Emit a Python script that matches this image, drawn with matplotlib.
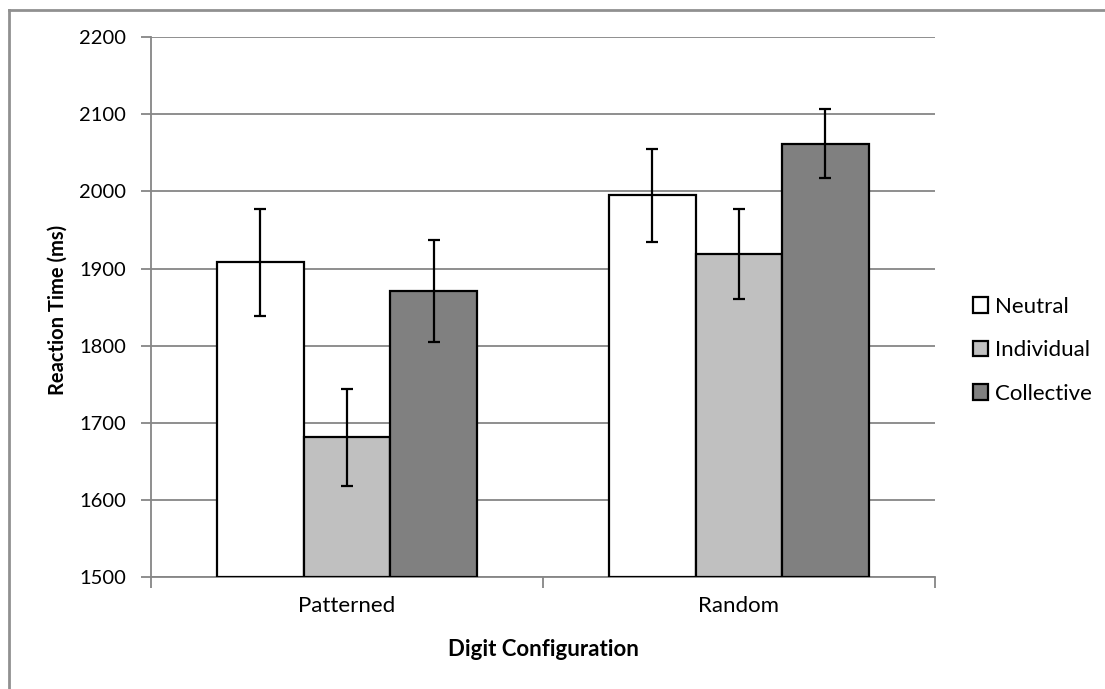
import matplotlib.pyplot as plt
import matplotlib.lines as mlines
import numpy as np

plt.rcParams['font.family'] = ['Lato', 'DejaVu Sans']

configs = ['Patterned', 'Random']
conditions = ['Neutral', 'Individual', 'Collective']
colors = ['#ffffff', '#c0c0c0', '#808080']

means = {
    'Neutral': [1908, 1995],
    'Individual': [1681, 1919],
    'Collective': [1871, 2062],
}
errors = {
    'Neutral': [69, 60],
    'Individual': [63, 58],
    'Collective': [66, 45],
}

fig = plt.figure(figsize=(11.05, 6.89), dpi=100)
ax = fig.add_axes([0.1367, 0.1626, 0.846 - 0.1367, 0.9459 - 0.1626])

x = np.arange(len(configs))
width = 0.221
for i, cond in enumerate(conditions):
    ax.bar(x + (i - 1) * width, np.array(means[cond]) - 1500, width, bottom=1500,
           color=colors[i], edgecolor='black', linewidth=1.6, label=cond, zorder=3)
    ax.errorbar(x + (i - 1) * width, means[cond], yerr=errors[cond], fmt='none',
                ecolor='black', elinewidth=1.6, capsize=4, capthick=1.6, zorder=4)

ax.set_ylim(1500, 2200)
ax.set_yticks(np.arange(1500, 2201, 100))
ax.set_xlim(-0.5, 1.5)
ax.set_xticks(x)
ax.set_xticklabels(configs)
ax.set_xticks([-0.5, 0.5, 1.5], minor=True)
ax.tick_params(axis='x', which='major', length=0, pad=14, labelsize=16)
ax.tick_params(axis='x', which='minor', length=8, width=1.3, color='#868686')
ax.tick_params(axis='y', length=7, width=1.3, color='#868686', labelsize=14.5, pad=11)

ax.yaxis.grid(True, color='#868686', linewidth=1.3, zorder=0)
for s in ['top', 'right']:
    ax.spines[s].set_visible(False)
for s in ['left', 'bottom']:
    ax.spines[s].set_color('#868686')
    ax.spines[s].set_linewidth(1.3)

ax.set_ylabel('Reaction Time (ms)', fontsize=14.5, fontweight='bold')
ax.yaxis.set_label_coords(-0.107, 0.494)
ax.set_xlabel('Digit Configuration', fontsize=16, fontweight='bold')
ax.xaxis.set_label_coords(0.5, -0.115)

ax.legend(loc='center left', bbox_to_anchor=(1.037, 0.42), frameon=False, fontsize=16,
          borderaxespad=0, handlelength=0.7, handleheight=0.7, handletextpad=0.3,
          labelspacing=1.05)

# outer chart border (top and left visible)
fig.add_artist(mlines.Line2D([0.0077, 0.0077], [0.0, 0.986], color='#909090', linewidth=2))
fig.add_artist(mlines.Line2D([0.0077, 1.0], [0.986, 0.986], color='#909090', linewidth=2))

fig.savefig('out.png', dpi=100)
